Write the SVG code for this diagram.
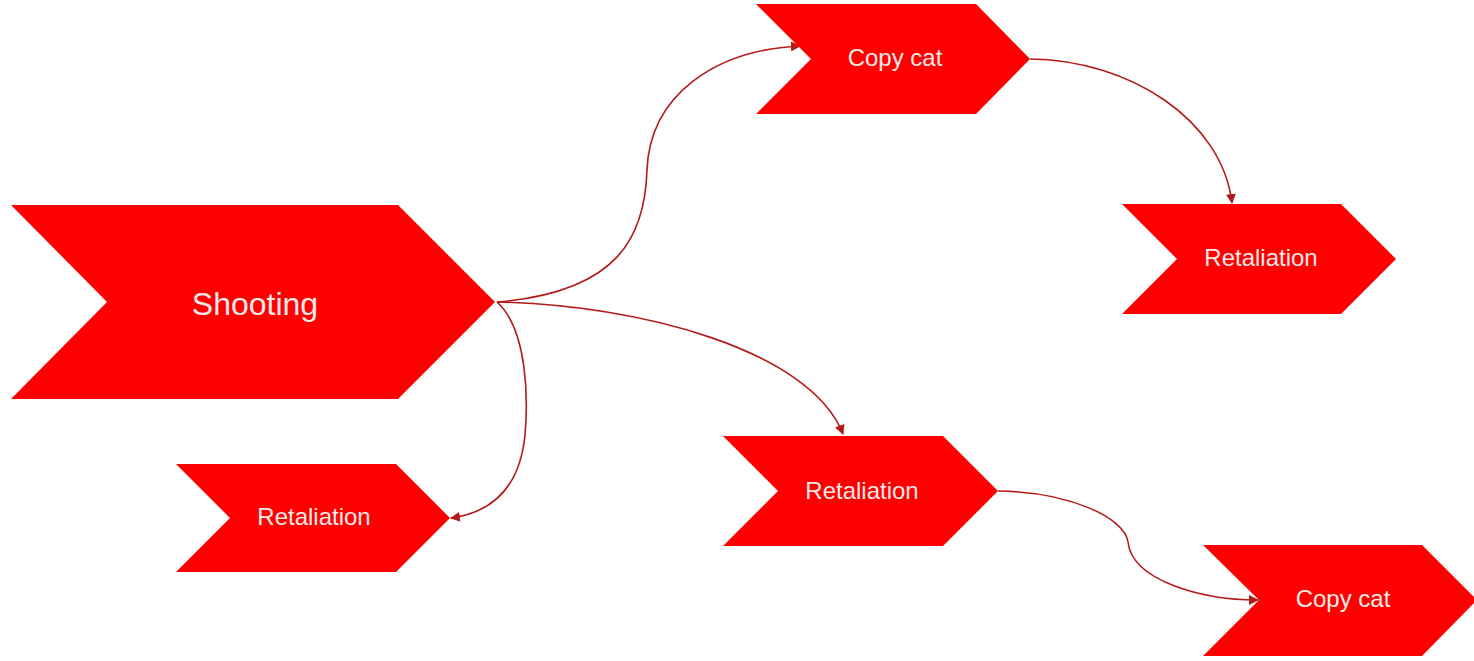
<svg xmlns="http://www.w3.org/2000/svg" width="1474" height="661" viewBox="0 0 1474 661">
<defs>
<style>
.node{fill:#ff0000;}
.lbl{font-family:"Liberation Sans",Arial,sans-serif;fill:#f4eaea;text-anchor:middle;}
.edge{fill:none;stroke:#b51a1a;stroke-width:1.6;}
</style>
<marker id="arr" viewBox="0 0 10 10" refX="9" refY="5" markerWidth="10" markerHeight="10" markerUnits="userSpaceOnUse" orient="auto">
<path d="M0,0 L10,5 L0,10 Z" fill="#b51a1a"/>
</marker>
</defs>
<rect width="1474" height="661" fill="#ffffff"/>
<g id="connectors">
<path class="edge" marker-end="url(#arr)" d="M497,302 C620,292 645,235 647,170 C650,95 715,50 800,46"/>
<path class="edge" marker-end="url(#arr)" d="M497,302 C640,305 810,350 843,434"/>
<path class="edge" marker-end="url(#arr)" d="M497,302 C528,330 528,400 525,435 C520,485 495,512 451,518"/>
<path class="edge" marker-end="url(#arr)" d="M1030,59 C1130,60 1222,120 1232,203"/>
<path class="edge" marker-end="url(#arr)" d="M998,491 C1070,492 1125,518 1128,542 C1132,580 1200,600 1258,600"/>
</g>
<g id="shooting">
<polygon class="node" points="11,205 398,205 495,302 398,399 11,399 107,302"/>
<text class="lbl" x="255" y="315" font-size="32">Shooting</text>
</g>
<g id="copycat1">
<polygon class="node" points="756,4 976,4 1030,59 976,114 756,114 811,59"/>
<text class="lbl" x="895" y="66" font-size="24">Copy cat</text>
</g>
<g id="retaliation1">
<polygon class="node" points="1122,204 1341,204 1396,259 1341,314 1122,314 1177,259"/>
<text class="lbl" x="1261" y="266" font-size="24">Retaliation</text>
</g>
<g id="retaliation2">
<polygon class="node" points="723,436 943,436 998,491 943,546 723,546 778,491"/>
<text class="lbl" x="862" y="499" font-size="24">Retaliation</text>
</g>
<g id="retaliation3">
<polygon class="node" points="176,464 396,464 450,518 396,572 176,572 230,518"/>
<text class="lbl" x="314" y="525" font-size="24">Retaliation</text>
</g>
<g id="copycat2">
<polygon class="node" points="1203,545 1422,545 1477,600 1422,656 1203,656 1259,600"/>
<text class="lbl" x="1343" y="607" font-size="24">Copy cat</text>
</g>
</svg>
